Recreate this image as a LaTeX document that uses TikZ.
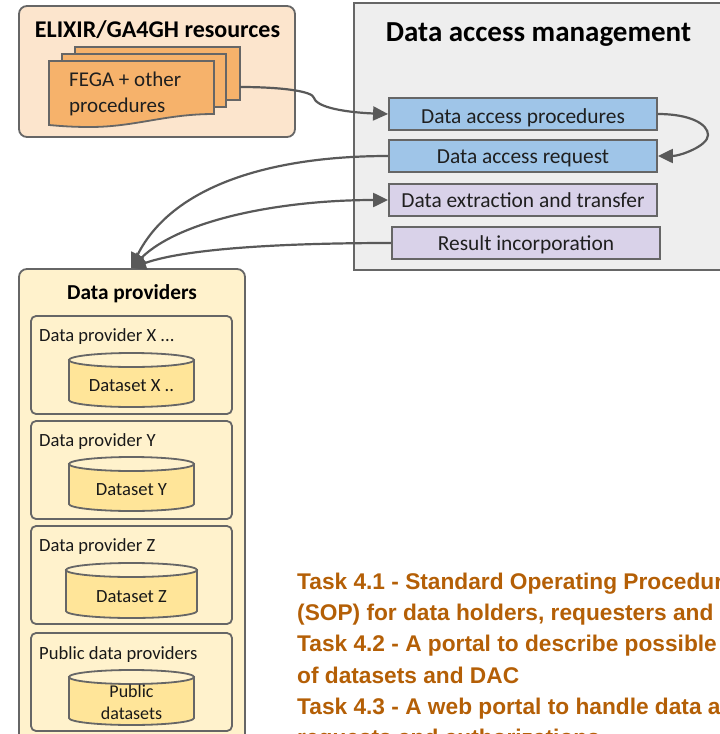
\documentclass[tikz,border=0pt]{standalone}
\usepackage{fontspec}
\setmainfont{Carlito}
\setsansfont{Liberation Sans}
\usetikzlibrary{arrows.meta}
\definecolor{edge}{HTML}{666666}
\definecolor{conn}{HTML}{595959}
\definecolor{elixirbg}{HTML}{FCE5CD}
\definecolor{docfill}{HTML}{F6B26B}
\definecolor{mgmtbg}{HTML}{EEEEEE}
\definecolor{bluefill}{HTML}{9FC5E8}
\definecolor{purplefill}{HTML}{D9D2E9}
\definecolor{provbg}{HTML}{FFF2CC}
\definecolor{cylfill}{HTML}{FFE599}
\definecolor{taskcol}{HTML}{B45F06}
\tikzset{
  panel/.style={draw=edge,line width=1.8pt,rounded corners=#1},
  panel/.default=8pt,
  stepbox/.style={draw=edge,line width=1.8pt,minimum width=268pt,minimum height=32pt,inner sep=0pt,text height=16pt,text depth=2pt,font=\fontsize{21.4}{24}\selectfont,text=black!88},
  bluebox/.style={stepbox,fill=bluefill},
  purplebox/.style={stepbox,fill=purplefill},
  heading/.style={font=\bfseries\fontsize{#1}{30}\selectfont,text=black,inner sep=0pt},
  small/.style={font=\fontsize{18.6}{22}\selectfont,text=black!90,inner sep=0pt},
  cyl/.style={draw=edge,line width=1.8pt},
  conn line/.style={draw=conn,line width=2.2pt},
  arrowed/.style={conn line,-{Triangle[length=15pt,width=14pt,fill=conn]}},
  twoway/.style={conn line,{Triangle[length=15pt,width=14pt,fill=conn]}-{Triangle[length=15pt,width=14pt,fill=conn]}},
  tasktext/.style={font=\sffamily\bfseries\fontsize{22.7}{24}\selectfont,text=taskcol,anchor=base west,inner sep=0pt},
}
\newcommand{\cylinder}[5]{% x1 x2 ytop ybottom name
  \draw[cyl,fill=cylfill] (#1,#3+7) -- (#1,#4-7) arc[start angle=180,end angle=0,x radius={(#2-#1)/2},y radius=7] -- (#2,#3+7) -- cycle;
  \draw[cyl,fill=provbg] ({(#1+#2)/2},#3+7) ellipse[x radius={(#2-#1)/2},y radius=7];
  \coordinate (#5) at ({(#1+#2)/2},{(#3+#4)/2+6});
}
\begin{document}
\begin{tikzpicture}[x=1pt,y=-1pt]
\useasboundingbox (0,0) rectangle (720,734);
\begin{scope}
\clip (0,0) rectangle (720,734);
% panels
\draw[panel,fill=elixirbg] (19,6) rectangle (295,137);
\draw[draw=edge,line width=1.8pt,fill=mgmtbg] (354,3) rectangle (730,270);
\draw[panel,fill=provbg] (19,269) rectangle (245,750);
\node[heading=24] (elixirtitle) at (157.5,30) {ELIXIR/GA4GH resources};
\node[heading=29] (mgmttitle) at (538.5,35) {Data access management};
\node[heading=21.3] (provtitle) at (132,293.5) {Data providers};
% stacked documents
\draw[draw=edge,line width=1.8pt,fill=docfill] (75,47) rectangle (240,100);
\coordinate (docout) at (240,87);
\draw[draw=edge,line width=1.8pt,fill=docfill] (62,54) rectangle (226,107);
\draw[draw=edge,line width=1.8pt,fill=docfill] (49,61) -- (214,61) -- (214,114)
  .. controls (165,114) and (135,127) .. (90,127) .. controls (72,127) and (60,126) .. (49,125) -- cycle;
\node[anchor=west,font=\fontsize{21}{26}\selectfont,align=left,inner sep=0pt,text=black!88] (doc) at (69,94) {FEGA + other\\procedures};
% step boxes
\node[bluebox,text height=18pt,text depth=0pt] (dap) at (523,114) {Data access procedures};
\node[bluebox] (dar) at (523,156) {Data access request};
\node[purplebox] (dex) at (523,200) {Data extraction and transfer};
\node[purplebox] (res) at (526,243) {Result incorporation};
% providers
\foreach \a/\b in {316/414,421/519,526/624,633/731}{
  \draw[panel=5pt] (31,\a) rectangle (232,\b);
}
\node[small,anchor=west] (px) at (39,337) {Data provider X ...};
\node[small,anchor=west] (py) at (39,442) {Data provider Y};
\node[small,anchor=west] (pz) at (39,547) {Data provider Z};
\node[small,anchor=west] (pp) at (39,655) {Public data providers};
\cylinder{69}{194}{353}{407}{cx}
\cylinder{69}{194}{457}{511}{cy}
\cylinder{66}{197}{563}{618}{cz}
\cylinder{69}{194}{670}{725}{cp}
\node[small] (dsx) at (cx) {Dataset X ..};
\node[small] (dsy) at (cy) {Dataset Y};
\node[small] (dsz) at (cz) {Dataset Z};
\node[small,align=center,font=\fontsize{18}{22}\selectfont] (dsp) at (131.5,702.5) {Public\\datasets};
\coordinate (provtop) at (131,268);
% connectors
\draw[arrowed] (docout) .. controls (280,87) and (313,91) .. (314,98) .. controls (318,110) and (360,113) .. (dap.west);
\draw[arrowed] (dap.east) .. controls (690,114) and (708,124) .. (708,135) .. controls (708,146) and (680,156) .. (dar.east);
\draw[arrowed] (dar.west) .. controls (270,156) and (172,186) .. (provtop);
\draw[arrowed] (res.west) .. controls (300,243) and (190,247) .. (provtop);
\draw[twoway] (provtop) .. controls (180,220) and (280,200) .. (dex.west);
% tasks
\node[tasktext] (t1) at (297,589) {Task 4.1 - Standard Operating Procedures};
\node[tasktext] (t2) at (297,620) {(SOP) for data holders, requesters and};
\node[tasktext] (t3) at (297,651) {Task 4.2 - A portal to describe possible};
\node[tasktext] (t4) at (297,683) {of datasets and DAC};
\node[tasktext] (t5) at (297,714) {Task 4.3 - A web portal to handle data access};
\node[tasktext] (t6) at (297,745) {requests and authorizations};
\end{scope}
\end{tikzpicture}
\end{document}
